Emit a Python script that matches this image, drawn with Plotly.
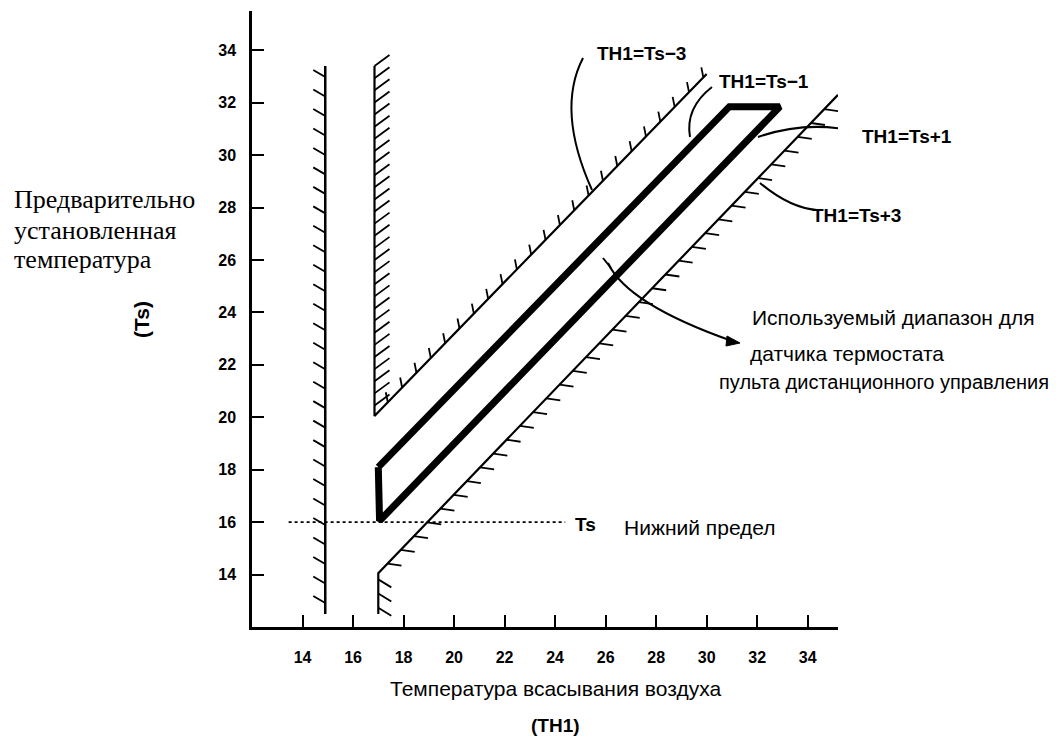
import numpy as np
import plotly.graph_objects as go

# ---------------- data (TH1 = air suction temp, Ts = preset temp) ----------------
th1_ticks = [14, 16, 18, 20, 22, 24, 26, 28, 30, 32, 34]
ts_ticks = [14, 16, 18, 20, 22, 24, 26, 28, 30, 32, 34]

left_limit_th1 = [14.9, 14.9]
left_limit_ts = [12.5, 33.4]

upper_limit_th1 = [16.85, 16.85, 30.0]      # TH1 = Ts - 3 branch
upper_limit_ts = [33.4, 20.05, 33.1]

lower_limit_th1 = [17.0, 17.0, 35.2]        # TH1 = Ts + 3 branch
lower_limit_ts = [12.5, 14.05, 32.3]

range_th1 = [17.0, 17.05, 32.9, 30.9, 17.0]  # usable range (Ts-1 .. Ts+1)
range_ts = [18.1, 16.05, 31.85, 31.85, 18.1]

ts_low_th1 = [13.45, 24.4]                   # Ts lower limit line
ts_low_ts = [16, 16]

# ---------------- geometry helpers ----------------
W, H = 1064, 742
ML, MR, MT, MB = 252, 226, 11, 115
XR = [12, 35.2]
YR = [12, 35.5]
PW = W - ML - MR
PH = H - MT - MB
SX = PW / (XR[1] - XR[0])   # px per TH1 degree
SY = PH / (YR[1] - YR[0])   # px per Ts degree


def d(px, py):
    return XR[0] + (px - ML) / SX, YR[0] + (H - MB - py) / SY


def pp(px, py):
    return (px - ML) / PW, (H - MB - py) / PH


def hatch(xs, ys, seg, t0, t1, n, dxp, dyp):
    """short marks along segment seg of polyline, offset in px (dx right, dy up)"""
    x0, x1 = xs[seg], xs[seg + 1]
    y0, y1 = ys[seg], ys[seg + 1]
    ox, oy = [], []
    for t in np.linspace(t0, t1, n):
        x = x0 + (x1 - x0) * t
        y = y0 + (y1 - y0) * t
        ox += [x, x + dxp / SX, None]
        oy += [y, y + dyp / SY, None]
    return ox, oy


fig = go.Figure()


def line(x, y, w, dash="solid"):
    fig.add_trace(go.Scatter(x=x, y=y, mode="lines", showlegend=False, hoverinfo="skip",
                             line=dict(color="black", width=w, dash=dash)))


line(left_limit_th1, left_limit_ts, 2.5)
line(upper_limit_th1, upper_limit_ts, 2.2)
line(lower_limit_th1, lower_limit_ts, 2.2)
line(range_th1, range_ts, 7)
line(ts_low_th1, ts_low_ts, 1.6, "dot")

# hatches
hx, hy = [], []
for args in [
    (left_limit_th1, left_limit_ts, 0, 0.02, 0.98, 28, -12, 7),
    (upper_limit_th1, upper_limit_ts, 0, 0.0, 0.97, 29, 15, 11),
    (upper_limit_th1, upper_limit_ts, 1, 0.04, 0.99, 23, -2, 10),
    (lower_limit_th1, lower_limit_ts, 0, 0.15, 0.85, 3, 13, -8),
    (lower_limit_th1, lower_limit_ts, 1, 0.02, 0.97, 34, 14, -2),
]:
    a, b = hatch(*args)
    hx += a
    hy += b
line(hx, hy, 1.8)

# leader curves (drawn in pixel positions converted to data)
leaders = [
    [(583, 58), (556, 110), (592, 190)],
    [(712, 87), (685, 108), (690, 137)],
    [(862, 133), (810, 119), (758, 137)],
    [(817, 210), (790, 208), (760, 183)],
    [(608, 263), (627, 304), (732, 341)],
]
shapes = []
for (s, c, e) in leaders:
    s, c, e = d(*s), d(*c), d(*e)
    shapes.append(dict(type="path", xref="x", yref="y",
                       path=f"M {s[0]},{s[1]} Q {c[0]},{c[1]} {e[0]},{e[1]}",
                       line=dict(color="black", width=2)))
# arrow head on the usable-range leader
a1, a2, a3 = d(740, 343), d(727, 336), d(726, 346)
shapes.append(dict(type="path", xref="x", yref="y",
                   path=f"M {a1[0]},{a1[1]} L {a2[0]},{a2[1]} L {a3[0]},{a3[1]} Z",
                   fillcolor="black", line=dict(color="black", width=1)))
# small hook at leader start
h1, h2 = d(603, 258), d(611, 268)
shapes.append(dict(type="path", xref="x", yref="y",
                   path=f"M {h1[0]},{h1[1]} L {h2[0]},{h2[1]}",
                   line=dict(color="black", width=2)))

SANS = "Liberation Sans, Arial, sans-serif"
SERIF = "Liberation Serif, Times New Roman, serif"
NARROW = "Liberation Sans Narrow, Arial Narrow, Liberation Sans, sans-serif"

texts = [
    ("Предварительно", 12, 200, "left", 26, SERIF, "normal", 0),
    ("установленная", 12, 230, "left", 26, SERIF, "normal", 0),
    ("температура", 12, 259, "left", 26, SERIF, "normal", 0),
    ("(Ts)", 141, 320, "center", 21, SANS, "bold", -90),
    ("Температура всасывания воздуха", 555, 688, "center", 21, SANS, "normal", 0),
    ("(TH1)", 555, 725, "center", 19, SANS, "bold", 0),
    ("Ts", 585, 524, "center", 19, SANS, "bold", 0),
    ("Нижний предел", 622, 527, "left", 21, SANS, "normal", 0),
    ("Используемый диапазон для", 750, 317, "left", 21, SANS, "normal", 0),
    ("датчика термостата", 748, 353, "left", 21, SANS, "normal", 0),
    ("пульта дистанционного управления", 717, 382, "left", 20, SANS, "normal", 0),
    ("TH1=Ts−3", 595, 53, "left", 19, NARROW, "bold", 0),
    ("TH1=Ts−1", 717, 81, "left", 19, NARROW, "bold", 0),
    ("TH1=Ts+1", 860, 136, "left", 19, NARROW, "bold", 0),
    ("TH1=Ts+3", 810, 215, "left", 19, NARROW, "bold", 0),
]
annotations = []
for t, px, py, xa, size, fam, wt, ang in texts:
    x, y = pp(px, py)
    annotations.append(dict(text=t, x=x, y=y, xref="paper", yref="paper", xanchor=xa,
                            yanchor="middle", showarrow=False, textangle=ang,
                            font=dict(family=fam, size=size, color="black", weight=wt)))

axis_common = dict(showgrid=False, zeroline=False, showline=True, linecolor="black",
                   linewidth=2.5, ticks="inside", ticklen=12, tickwidth=2, tickcolor="black",
                   tickfont=dict(family=NARROW, size=16, color="black", weight="bold"))

fig.update_layout(
    width=W, height=H,
    margin=dict(l=ML, r=MR, t=MT, b=MB, pad=0),
    paper_bgcolor="white", plot_bgcolor="white",
    xaxis=dict(range=XR, tickvals=th1_ticks, ticklabelstandoff=14, **axis_common),
    yaxis=dict(range=YR, tickvals=ts_ticks, ticklabelstandoff=10, **axis_common),
    shapes=shapes,
    annotations=annotations,
    showlegend=False,
)

fig.write_html("out.html", config={"displayModeBar": False},
               post_script="document.body.style.margin='0px';document.body.style.overflow='hidden';")
